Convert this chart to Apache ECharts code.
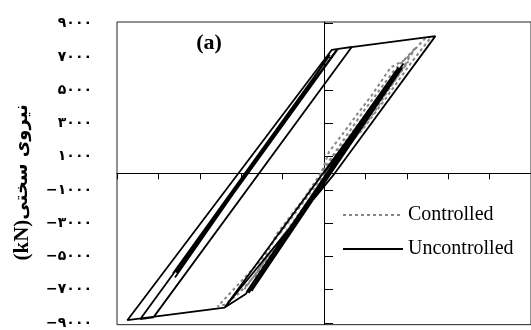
<!DOCTYPE html>
<html>
<head>
<meta charset="utf-8">
<script src="https://cdn.jsdelivr.net/npm/echarts@6/dist/echarts.min.js"></script>
<style>
  html, body { margin: 0; padding: 0; background: #fff; }
  #chart { width: 531px; height: 330px; }
</style>
</head>
<body>
<div id="chart"></div>
<script>
// Hysteresis loops: displacement (x) vs. stiffness force in kN (y)
var yTickValues = [-9000, -7000, -5000, -3000, -1000, 1000, 3000, 5000, 7000, 9000];

// Uncontrolled response (path through the loop, in drawing order)
var uncontrolledX = [0, 18.0, -18.9, -24.0, -47.5, 1.9, 6.7, -41.2, -44.4, 2.9,
  -36.5, 1.0, -36.0, 1.4, -35.7, 3.4, 26.9, 2.6, -24.0,
  19.2, -18.2, 18.9, -17.5, 17.3, -18.7, 16.8, 1.4];
var uncontrolledY = [0, 6370, -7250, -8070, -8830, 7430, 7600, -8660, -8770, 7370,
  -6020, 6960, -6260, 7130, -5970, 7490, 8250, 0, -8070,
  6610, -7190, 6370, -7080, 6140, -7130, 5910, 410];

// Controlled response
var controlledX = [0, 20.4, -16.8, -11.5, -6.7, -1.2, 1.2, 4.8, 7.9, 11.5, 16.1, 19.7, 24.7, 25.9,
  24.0, 20.4, 14.9, 9.1, 3.6, -5.3, -9.1, -13.9, -16.3, -20.4, -24.0, -25.7,
  -20.9, -15.6, -6.0, 1.9, 8.9, 16.8, 22.3,
  12.0, -1.2, -19.2, -6.0, 18.0, -10.8, 13.2, -0.7];
var controlledY = [0, 6730, -6320, -3680, -2110, -350, 1290, 2460, 3510, 4680, 6370, 6840, 8190, 8190,
  7600, 6430, 4500, 2570, 1110, -2340, -3510, -5030, -6020, -7190, -7900, -8010,
  -6730, -5320, -1930, 990, 3510, 6140, 7600,
  3630, -760, -6960, -2510, 5960, -3680, 4620, -60];

function zip(xs, ys) {
  return xs.map(function (x, i) { return [x, ys[i]]; });
}

var persianDigits = '۰۱۲۳۴۵۶۷۸۹';
function toPersian(v) {
  var s = String(Math.abs(v)).replace(/\d/g, function (d) { return persianDigits[+d]; });
  return (v < 0 ? '−' : '') + s;
}

var serif = '"Liberation Serif", "Times New Roman", serif';

var chart = echarts.init(document.getElementById('chart'), null, { renderer: 'canvas' });
chart.setOption({
  animation: false,
  backgroundColor: '#fff',
  grid: {
    show: true,
    left: 117,
    top: 22,
    width: 417,
    height: 311,
    borderColor: '#222',
    borderWidth: 1,
    backgroundColor: 'transparent'
  },
  xAxis: {
    type: 'value',
    min: -50,
    max: 50,
    interval: 10,
    axisLine: { show: true, onZero: true, lineStyle: { color: '#000', width: 1 } },
    axisTick: { show: true, inside: false, length: 6, lineStyle: { color: '#000' } },
    axisLabel: { show: false },
    splitLine: { show: false }
  },
  yAxis: [{
    type: 'value',
    min: -9100,
    max: 9100,
    position: 'left',
    axisLine: { show: false, onZero: false },
    axisTick: { show: false },
    splitLine: { show: false },
    axisLabel: {
      customValues: yTickValues,
      formatter: toPersian,
      margin: 25,
      color: '#000',
      fontFamily: '"DejaVu Sans", sans-serif',
      fontWeight: 'bold',
      fontSize: 14,
      padding: [0, 0, 5, 0]
    },
    name: '{u|(kN)}{f|نیروی سختی}',
    nameLocation: 'middle',
    nameRotate: 90,
    nameGap: 84,
    nameTextStyle: {
      color: '#000',
      padding: [0, 18, 0, 0],
      rich: {
        u: { fontFamily: serif, fontWeight: 'bold', fontSize: 21, color: '#000' },
        f: { fontFamily: '"DejaVu Sans", sans-serif', fontWeight: 'bold', fontSize: 18, color: '#000' }
      }
    }
  }, {
    type: 'value',
    min: -9100,
    max: 9100,
    position: 'left',
    axisLine: { show: true, onZero: true, onZeroAxisIndex: 0, lineStyle: { color: '#000', width: 1 } },
    axisTick: { show: true, inside: true, length: 9, customValues: yTickValues, lineStyle: { color: '#000' } },
    axisLabel: { show: false },
    splitLine: { show: false }
  }],
  legend: {
    orient: 'vertical',
    left: 337,
    top: 200,
    itemWidth: 60,
    itemHeight: 14,
    itemGap: 14,
    data: ['Controlled', 'Uncontrolled'],
    itemStyle: { opacity: 0 },
    textStyle: { fontFamily: serif, fontSize: 20, color: '#000' }
  },
  graphic: [{
    type: 'text',
    x: 209,
    y: 43,
    style: {
      text: '(a)',
      font: 'bold 22px ' + serif,
      fill: '#000',
      textAlign: 'center',
      textVerticalAlign: 'middle'
    }
  }],
  series: [{
    name: 'Controlled',
    type: 'line',
    data: zip(controlledX, controlledY),
    showSymbol: false,
    symbol: 'none',
    z: 2,
    itemStyle: { color: '#858585' },
    lineStyle: { color: '#858585', width: 2, type: [3, 3] }
  }, {
    name: 'Uncontrolled',
    type: 'line',
    data: zip(uncontrolledX, uncontrolledY),
    showSymbol: false,
    symbol: 'none',
    z: 3,
    itemStyle: { color: '#000' },
    lineStyle: { color: '#000', width: 1.8 }
  }]
});
</script>
</body>
</html>
